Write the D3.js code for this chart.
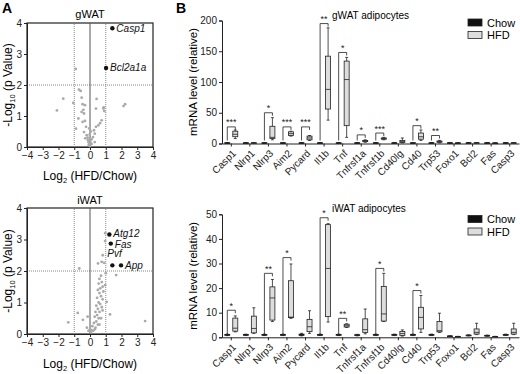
<!DOCTYPE html>
<html>
<head>
<meta charset="utf-8">
<script src="https://cdn.jsdelivr.net/npm/d3@7"></script>
<style>
  body { margin: 0; background: #fff; }
  svg { font-family: "Liberation Sans", Arial, sans-serif; }
  .axis path, .axis line { stroke: #222; }
  .axis text { font-size: 10px; fill: #222; }
</style>
</head>
<body>
<div id="chart"></div>
<script>
// ---- volcano data: [log2 fold change, -log10 p]
const gwatPoints = [
  [-0.9, 2.52], [-0.7, 1.85], [-1.7, 1.56], [-2.1, 1.18], [-1.06, 1.42], [-0.59, 1.81],
  [-0.53, 1.59], [-0.47, 1.38], [-0.32, 1.35], [-0.42, 1.2], [-0.53, 1.13], [-0.38, 1.08],
  [-0.74, 0.92], [-0.47, 0.81], [-0.32, 0.84], [-0.89, 0.59], [-0.25, 0.65], [-0.38, 0.48],
  [-0.21, 0.38], [-0.3, 0.28], [-0.13, 0.22], [-0.1, 0.15], [-0.05, 0.08], [0, 0.03],
  [-0.08, 0.05], [0.05, 0.12], [0.02, 0.2], [-0.15, 0.3], [0.1, 0.25], [0.42, 1.55],
  [0.38, 1.24], [0.85, 1.24], [0.91, 1.16], [0.74, 0.86], [0.64, 0.77], [0.53, 0.7],
  [0.38, 0.65], [0.25, 0.54], [0.3, 0.43], [0.19, 0.32], [0.3, 0.16], [0.1, 0.1],
  [0.87, 1.28], [2.23, 1.38], [2.13, 1.32], [-0.02, 0.4], [0.05, 0.5], [-0.05, 0.6]
];
const gwatHits = [
  { gene: "Casp1", x: 1.42, y: 3.83 },
  { gene: "Bcl2a1a", x: 1.02, y: 2.55 }
];
const iwatPoints = [
  [0.97, 3.2], [0.96, 2.95], [0.81, 2.5], [0.74, 2.29], [0.51, 2.24], [0.89, 2.26],
  [-0.68, 2.08], [1.66, 1.87], [1.0, 1.93], [-0.78, 0.67], [-1.38, 0.37], [1.27, 0.62],
  [-0.15, 0.55], [-0.45, 0.45], [1.06, 1.02], [0.96, 1.55], [3.5, 0.41],
  [0.7, 1.85], [0.6, 1.75], [0.75, 1.65], [0.55, 1.6], [0.8, 1.5], [0.65, 1.45],
  [0.5, 1.4], [0.85, 1.35], [0.6, 1.3], [0.7, 1.2], [0.45, 1.15], [0.8, 1.1],
  [0.55, 1.0], [0.65, 0.95], [0.4, 0.9], [0.75, 0.85], [0.5, 0.8], [0.6, 0.7],
  [0.35, 0.7], [0.8, 0.75], [0.45, 0.6], [0.55, 0.5], [0.3, 0.55], [0.7, 0.5],
  [0.4, 0.4], [0.25, 0.35], [0.5, 0.3], [0.15, 0.25], [0.35, 0.2], [0.0, 0.15],
  [-0.1, 0.1], [0.1, 0.12], [0.2, 0.1], [-0.2, 0.2], [0.05, 0.05], [0.3, 0.15], [0.6, 0.3]
];
const iwatHits = [
  { gene: "Atg12", x: 1.23, y: 3.16 },
  { gene: "Fas", x: 1.32, y: 2.87 },
  { gene: "Pvf", x: 1.42, y: 2.18 },
  { gene: "App", x: 1.97, y: 2.18 }
];
const volcanoXTicks = [-4, -3, -2, -1, 0, 1, 2, 3, 4];
const volcanoYTicks = [0, 1, 2, 3, 4];

// ---- box plot data: [min, q1, median, q3, max] per gene
const genes = ["Casp1", "Nlrp1", "Nlrp3", "Aim2", "Pycard", "Il1b", "Tnf", "Tnfrsf1a",
  "Tnfrsf1b", "Cd40lg", "Cd40", "Trp53", "Foxo1", "Bcl2", "Fas", "Casp3"];

const gwatChow = [
  [0.6, 0.8, 1, 1.2, 1.4], [0.6, 0.8, 1, 1.2, 1.4], [0.6, 0.8, 1, 1.2, 1.4], [0.6, 0.8, 1, 1.2, 1.4],
  [0.6, 0.8, 1, 1.2, 1.4], [0.6, 0.8, 1, 1.2, 1.4], [0.6, 0.8, 1, 1.2, 1.4], [0.6, 0.8, 1, 1.2, 1.4],
  [0.6, 0.8, 1, 1.2, 1.4], [0.6, 0.8, 1, 1.2, 1.4], [0.6, 0.8, 1, 1.2, 1.4], [0.6, 0.8, 1, 1.2, 1.4],
  [0.6, 0.8, 1, 1.2, 1.4], [0.6, 0.8, 1, 1.2, 1.4], [0.6, 0.8, 1, 1.2, 1.4], [0.6, 0.8, 1, 1.2, 1.4]
];
const gwatHfd = [
  [8, 11, 15, 20, 22], [0.6, 0.8, 1, 1.3, 1.6], [6, 8, 10, 28, 42], [12, 13, 16, 19, 20],
  [5, 6, 9, 12, 13], [38, 56, 88, 142, 188], [10, 29, 104, 134, 140], [2, 3, 4, 5, 6],
  [6, 7, 8, 9, 10], [1, 1.5, 3, 5, 9], [5, 7, 11, 17, 22], [1, 2, 3, 4, 5],
  [0.5, 0.7, 0.9, 1.1, 1.3], [0.6, 0.8, 1, 1.3, 1.6], [0.4, 0.6, 0.8, 1, 1.2], [0.6, 0.8, 1, 1.3, 1.6]
];
const gwatSig = [
  ["Casp1", 27, "***"], ["Nlrp3", 50, "*"], ["Aim2", 27, "***"], ["Pycard", 27, "***"],
  ["Il1b", 195, "**"], ["Tnf", 148, "*"], ["Tnfrsf1a", 14, "*"], ["Tnfrsf1b", 17, "***"],
  ["Cd40", 29, "*"], ["Trp53", 13, "**"]
];

const iwatChow = [
  [0.7, 0.85, 1, 1.15, 1.3], [0.7, 0.85, 1, 1.15, 1.3], [0.7, 0.85, 1, 1.15, 1.3], [0.7, 0.85, 1, 1.15, 1.3],
  [0.6, 0.8, 1, 1.3, 1.6], [0.7, 0.85, 1, 1.15, 1.3], [0.7, 0.85, 1, 1.15, 1.3], [0.6, 0.75, 0.9, 1.05, 1.2],
  [0.7, 0.85, 1, 1.15, 1.3], [0.7, 0.85, 1, 1.15, 1.3], [0.7, 0.85, 1, 1.15, 1.3], [0.7, 0.85, 1, 1.15, 1.3],
  [0.4, 0.45, 0.5, 0.55, 0.6], [0.6, 0.7, 0.8, 0.9, 1.0], [0.5, 0.6, 0.7, 0.8, 0.9], [0.7, 0.85, 1, 1.15, 1.3]
];
const iwatHfd = [
  [2.2, 2.5, 3.7, 7.8, 8.7], [1.6, 1.8, 3.6, 8.6, 12], [6.4, 7, 16, 20.5, 23.5], [7.7, 8, 8.2, 23, 29.8],
  [1.6, 2.3, 4.3, 7.3, 10.8], [6.2, 8.4, 28, 45.8, 46.2], [4, 4.2, 4.7, 5.3, 5.5], [1.4, 2, 3.1, 7.5, 11.5],
  [6.4, 6.6, 9.5, 20.7, 26], [0.5, 0.7, 1.5, 2.4, 3], [2, 3.4, 8.1, 12.2, 17], [2, 2.2, 2.7, 6.4, 9.8],
  [0.2, 0.25, 0.3, 0.35, 0.4], [1.1, 1.3, 2, 3.4, 5.7], [0.2, 0.25, 0.3, 0.35, 0.4], [1.1, 1.3, 2, 3.4, 5.7]
];
const iwatSig = [
  ["Casp1", 11, "*"], ["Nlrp3", 26, "**"], ["Aim2", 32.4, "*"], ["Il1b", 48.6, "*"],
  ["Tnf", 7.7, "**"], ["Tnfrsf1b", 28, "*"], ["Cd40", 19, "*"]
];
const gwatTicks = [0, 50, 100, 150, 200];
const iwatTicks = [0, 10, 20, 30, 40, 50];

const svg = d3.select("#chart").append("svg")
  .attr("width", 520)
  .attr("height", 374);

// panel letters
svg.append("text").attr("x", 2).attr("y", 13).text("A")
  .style("font-size", "14px").style("font-weight", "bold");
svg.append("text").attr("x", 176).attr("y", 13).text("B")
  .style("font-size", "14px").style("font-weight", "bold");

// ---------- volcano plots
const vx = d3.scaleLinear().domain([-4, 4]).range([27, 153]);

function volcano(points, hits, top, bottom, title, titleY, labelY) {
  const vy = d3.scaleLinear().domain([0, 4]).range([bottom, top]);
  const g = svg.append("g");

  // frame
  g.append("rect")
    .attr("x", vx(-4)).attr("y", vy(4))
    .attr("width", vx(4) - vx(-4)).attr("height", vy(0) - vy(4))
    .attr("fill", "none").attr("stroke", "#222").attr("stroke-width", 1.2);

  // reference lines
  [-1, 1].forEach(v => {
    g.append("line")
      .attr("x1", vx(v)).attr("x2", vx(v)).attr("y1", vy(0)).attr("y2", vy(4))
      .attr("stroke", "#888").attr("stroke-dasharray", "1,1");
  });
  g.append("line")
    .attr("x1", vx(-4)).attr("x2", vx(4)).attr("y1", vy(2)).attr("y2", vy(2))
    .attr("stroke", "#888").attr("stroke-dasharray", "1,1");
  g.append("line")
    .attr("x1", vx(0)).attr("x2", vx(0)).attr("y1", vy(0)).attr("y2", vy(4))
    .attr("stroke", "#555").attr("stroke-width", 1);

  g.append("g").attr("class", "axis")
    .attr("transform", `translate(${vx(-4)},0)`)
    .call(d3.axisLeft(vy).tickValues(volcanoYTicks).tickSize(3).tickPadding(2).tickFormat(d3.format("d")));
  g.append("g").attr("class", "axis")
    .attr("transform", `translate(0,${vy(0)})`)
    .call(d3.axisBottom(vx).tickValues(volcanoXTicks).tickSize(3).tickPadding(2).tickFormat(d3.format("d")));

  g.selectAll(".pt").data(points).join("circle")
    .attr("cx", d => vx(d[0])).attr("cy", d => vy(d[1]))
    .attr("r", 1.4).attr("fill", "#aaa");

  g.selectAll(".hit").data(hits).join("circle")
    .attr("cx", d => vx(d.x)).attr("cy", d => vy(d.y))
    .attr("r", 2.2).attr("fill", "#111");

  // label offsets keep Atg12 / Fas apart and Pvf above its dot
  const labDx = { Pvf: -5 };
  const labDy = { Pvf: -8, Atg12: 2.5, Fas: 4.5 };
  g.selectAll(".hitlab").data(hits).join("text")
    .attr("x", d => vx(d.x) + (labDx[d.gene] ?? 4))
    .attr("y", d => vy(d.y) + (labDy[d.gene] ?? 3.5))
    .text(d => d.gene)
    .style("font-size", "10px").style("font-style", "italic").attr("fill", "#111");

  g.append("text").attr("x", vx(0)).attr("y", titleY).attr("text-anchor", "middle")
    .text(title).style("font-size", "11px");

  const yl = g.append("text")
    .attr("transform", `translate(12,${(top + bottom) / 2}) rotate(-90)`)
    .attr("text-anchor", "middle").style("font-size", "12px");
  yl.append("tspan").text("-Log");
  yl.append("tspan").text("10").attr("dy", 3).style("font-size", "7.5px");
  yl.append("tspan").text(" (p Value)").attr("dy", -3);

  const xl = g.append("text")
    .attr("x", vx(0)).attr("y", labelY).attr("text-anchor", "middle")
    .style("font-size", "12px");
  xl.append("tspan").text("Log");
  xl.append("tspan").text("2").attr("dy", 3).style("font-size", "7.5px");
  xl.append("tspan").text(" (HFD/Chow)").attr("dy", -3);
}

volcano(gwatPoints, gwatHits, 23, 147, "gWAT", 18, 180);
volcano(iwatPoints, iwatHits, 208, 334, "iWAT", 204, 368);

// ---------- box plots
const bx = d3.scaleBand().domain(genes).range([222, 519]);
const boxW = 5;

function boxPanel(chow, hfd, sig, ticks, top, bottom, title, titleY, legendY) {
  const by = d3.scaleLinear().domain([0, ticks[ticks.length - 1]]).range([bottom, top]);
  const g = svg.append("g");
  const cx = gene => bx(gene) + bx.bandwidth() / 2;

  g.append("g").attr("class", "axis")
    .attr("transform", `translate(${bx.range()[0]},0)`)
    .call(d3.axisLeft(by).tickValues(ticks).tickSize(3).tickPadding(2));

  const xa = g.append("g").attr("class", "axis")
    .attr("transform", `translate(0,${bottom})`)
    .call(d3.axisBottom(bx).tickSize(3).tickSizeOuter(0));
  xa.selectAll("text")
    .attr("x", 0).attr("y", 0).attr("dy", "0.35em")
    .attr("text-anchor", "end")
    .attr("transform", "translate(3,8) rotate(-45)")
    .style("font-size", "10px");

  function drawBoxes(data, offset, fill) {
    const bg = g.append("g");
    data.forEach((d, i) => {
      const x = cx(genes[i]) + offset;
      bg.append("line").attr("x1", x).attr("x2", x)
        .attr("y1", by(d[0])).attr("y2", by(d[4])).attr("stroke", "#222").attr("stroke-width", 0.8);
      [d[0], d[4]].forEach(v => bg.append("line")
        .attr("x1", x - 1.5).attr("x2", x + 1.5).attr("y1", by(v)).attr("y2", by(v))
        .attr("stroke", "#222").attr("stroke-width", 0.8));
      bg.append("rect")
        .attr("x", x - boxW / 2).attr("y", by(d[3]))
        .attr("width", boxW).attr("height", Math.max(by(d[1]) - by(d[3]), 0.8))
        .attr("fill", fill).attr("stroke", "#222").attr("stroke-width", 0.8);
      bg.append("line").attr("x1", x - boxW / 2).attr("x2", x + boxW / 2)
        .attr("y1", by(d[2])).attr("y2", by(d[2])).attr("stroke", "#222").attr("stroke-width", 0.8);
    });
  }
  drawBoxes(chow, -4, "#111");
  drawBoxes(hfd, 4, "#ddd");

  // significance brackets
  sig.forEach(s => {
    const c = cx(s[0]);
    const yTop = by(s[1]);
    g.append("path")
      .attr("d", `M${c - 4},${bottom - 3}V${yTop}H${c + 4}V${yTop + 3}`)
      .attr("fill", "none").attr("stroke", "#222").attr("stroke-width", 0.8);
    g.append("text").attr("x", c).attr("y", yTop - 1.5).attr("text-anchor", "middle")
      .text(s[2]).style("font-size", "9px").attr("fill", "#222");
  });

  g.append("text").attr("x", 332).attr("y", titleY).text(title).style("font-size", "10px");

  g.append("text")
    .attr("transform", `translate(197,${(top + bottom) / 2}) rotate(-90)`)
    .attr("text-anchor", "middle").style("font-size", "11.5px")
    .text("mRNA level (relative)");

  // legend
  const lg = g.append("g").attr("transform", `translate(468,${legendY})`);
  [["Chow", "#111"], ["HFD", "#ddd"]].forEach((d, i) => {
    lg.append("rect").attr("x", 0).attr("y", i * 12.5).attr("width", 14).attr("height", 7)
      .attr("fill", d[1]).attr("stroke", "#222").attr("stroke-width", 0.8);
    lg.append("text").attr("x", 19).attr("y", i * 12.5 + 7.5).text(d[0]).style("font-size", "11px");
  });
}

boxPanel(gwatChow, gwatHfd, gwatSig, gwatTicks, 20.5, 143.5, "gWAT adipocytes", 19, 19);
boxPanel(iwatChow, iwatHfd, iwatSig, iwatTicks, 214.3, 337.3, "iWAT adipocytes", 212, 215.5);
</script>
</body>
</html>
